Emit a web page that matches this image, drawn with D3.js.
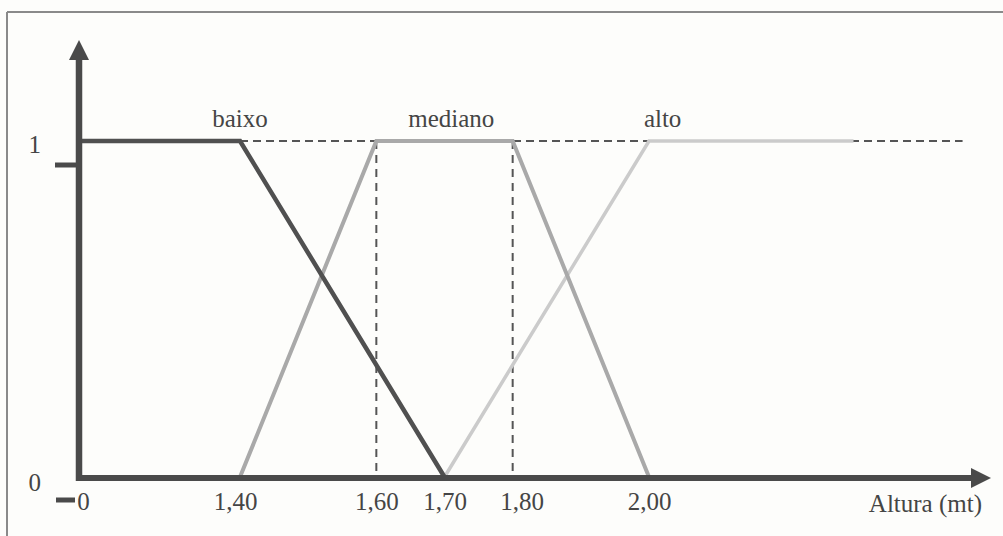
<!DOCTYPE html>
<html>
<head>
<meta charset="utf-8">
<script src="https://cdn.jsdelivr.net/npm/d3@7/dist/d3.min.js"></script>
<style>
  html, body { margin: 0; padding: 0; background: #fdfdfb; }
  svg { display: block; }
  text { font-family: "Liberation Serif", "Times New Roman", serif; fill: #454545; }
</style>
</head>
<body>
<svg id="chart" width="1003" height="536"></svg>
<script>
// ---- data ----
const categories = ["baixo", "mediano", "alto"];
const baixoX = [0, 1.40, 1.70];
const baixoY = [1, 1, 0];
const medianoX = [1.40, 1.60, 1.80, 2.00];
const medianoY = [0, 1, 1, 0];
const altoX = [1.70, 2.00, 2.30];
const altoY = [0, 1, 1];
const labelX = [1.40, 1.71, 2.02];          // where category names sit (x values)
const xTickValues = [0, 1.40, 1.60, 1.70, 1.80, 2.00];
const xTickLabels = ["0", "1,40", "1,60", "1,70", "1,80", "2,00"];
const yTickValues = [0, 1];
const yTickLabels = ["0", "1"];
const guideXs = [1.60, 1.80];               // vertical dashed guides
const guideTopRange = [1.40, 2.46];         // horizontal dashed guide at membership 1
const xTitle = "Altura (mt)";

// ---- layout ----
const svg = d3.select("#chart");
const x = d3.scaleLinear().domain([0, 1.40, 2.00]).range([79, 240, 649]);
const y = d3.scaleLinear().domain([0, 1]).range([477, 141]);

// scanned page frame
svg.append("line").attr("x1", 7).attr("x2", 1003).attr("y1", 12).attr("y2", 12)
  .attr("stroke", "#8a8a8a").attr("stroke-width", 2);
svg.append("line").attr("x1", 7).attr("x2", 7).attr("y1", 12).attr("y2", 536)
  .attr("stroke", "#8a8a8a").attr("stroke-width", 2);

// dashed guides
svg.append("line")
  .attr("x1", x(guideTopRange[0])).attr("x2", x(guideTopRange[1]))
  .attr("y1", y(1)).attr("y2", y(1))
  .attr("stroke", "#555").attr("stroke-width", 2).attr("stroke-dasharray", "8,5");
svg.selectAll(".vguide").data(guideXs).join("line").attr("class", "vguide")
  .attr("x1", d => x(d)).attr("x2", d => x(d))
  .attr("y1", y(1)).attr("y2", y(0))
  .attr("stroke", "#555").attr("stroke-width", 2).attr("stroke-dasharray", "8,6");

// membership functions
const line = d3.line().x(d => x(d[0])).y(d => y(d[1]));
const series = [
  { xs: altoX, ys: altoY, color: "#cbcbcb", w: 3.5 },
  { xs: medianoX, ys: medianoY, color: "#a9a9a9", w: 4 },
  { xs: baixoX, ys: baixoY, color: "#505050", w: 4.5 }
];
series.forEach(s => {
  svg.append("path")
    .datum(s.xs.map((v, i) => [v, s.ys[i]]))
    .attr("d", line)
    .attr("fill", "none")
    .attr("stroke", s.color)
    .attr("stroke-width", s.w)
    .attr("stroke-linejoin", "miter");
});

// axes (thick arrows)
const axisColor = "#4a4a4a";
svg.append("line").attr("x1", 79).attr("x2", 79).attr("y1", 481).attr("y2", 58)
  .attr("stroke", axisColor).attr("stroke-width", 6.5);
svg.append("path").attr("d", "M79,40 L89,60 L69,60 Z").attr("fill", axisColor);
svg.append("line").attr("x1", 76).attr("x2", 973).attr("y1", 478).attr("y2", 478)
  .attr("stroke", axisColor).attr("stroke-width", 6);
svg.append("path").attr("d", "M991,478 L971,468 L971,488 Z").attr("fill", axisColor);

// small stray tick marks of the original figure
svg.append("line").attr("x1", 55).attr("x2", 79).attr("y1", 165).attr("y2", 165)
  .attr("stroke", axisColor).attr("stroke-width", 5);
svg.append("line").attr("x1", 56).attr("x2", 75).attr("y1", 500).attr("y2", 500)
  .attr("stroke", axisColor).attr("stroke-width", 5);

// x axis labels via d3 axis
const xAxis = d3.axisBottom(x)
  .tickValues(xTickValues)
  .tickSize(0)
  .tickPadding(14)
  .tickFormat((d, i) => xTickLabels[i]);
const gx = svg.append("g").attr("transform", "translate(0,478)").call(xAxis);
gx.select(".domain").remove();
gx.selectAll("text")
  .attr("font-family", "Liberation Serif, Times New Roman, serif")
  .attr("font-size", 25).attr("fill", "#454545")
  .attr("dx", (d, i) => (i === 0 ? 4 : i === 4 ? 9 : i === 1 ? -5 : 0));

// y axis labels via d3 axis
const yAxis = d3.axisLeft(y)
  .tickValues(yTickValues)
  .tickSize(0)
  .tickPadding(38)
  .tickFormat((d, i) => yTickLabels[i]);
const gy = svg.append("g").attr("transform", "translate(79,0)").call(yAxis);
gy.select(".domain").remove();
gy.selectAll("text")
  .attr("font-family", "Liberation Serif, Times New Roman, serif")
  .attr("font-size", 25).attr("fill", "#454545")
  .attr("dy", (d) => (d === 0 ? "0.55em" : "0.45em"));

// category names
svg.selectAll(".cat").data(categories).join("text").attr("class", "cat")
  .attr("x", (d, i) => x(labelX[i]))
  .attr("y", 127)
  .attr("text-anchor", "middle")
  .attr("font-size", 25)
  .text(d => d);

// x axis title
svg.append("text")
  .attr("x", 982).attr("y", 512)
  .attr("text-anchor", "end")
  .attr("font-size", 25)
  .text(xTitle);
</script>
</body>
</html>
